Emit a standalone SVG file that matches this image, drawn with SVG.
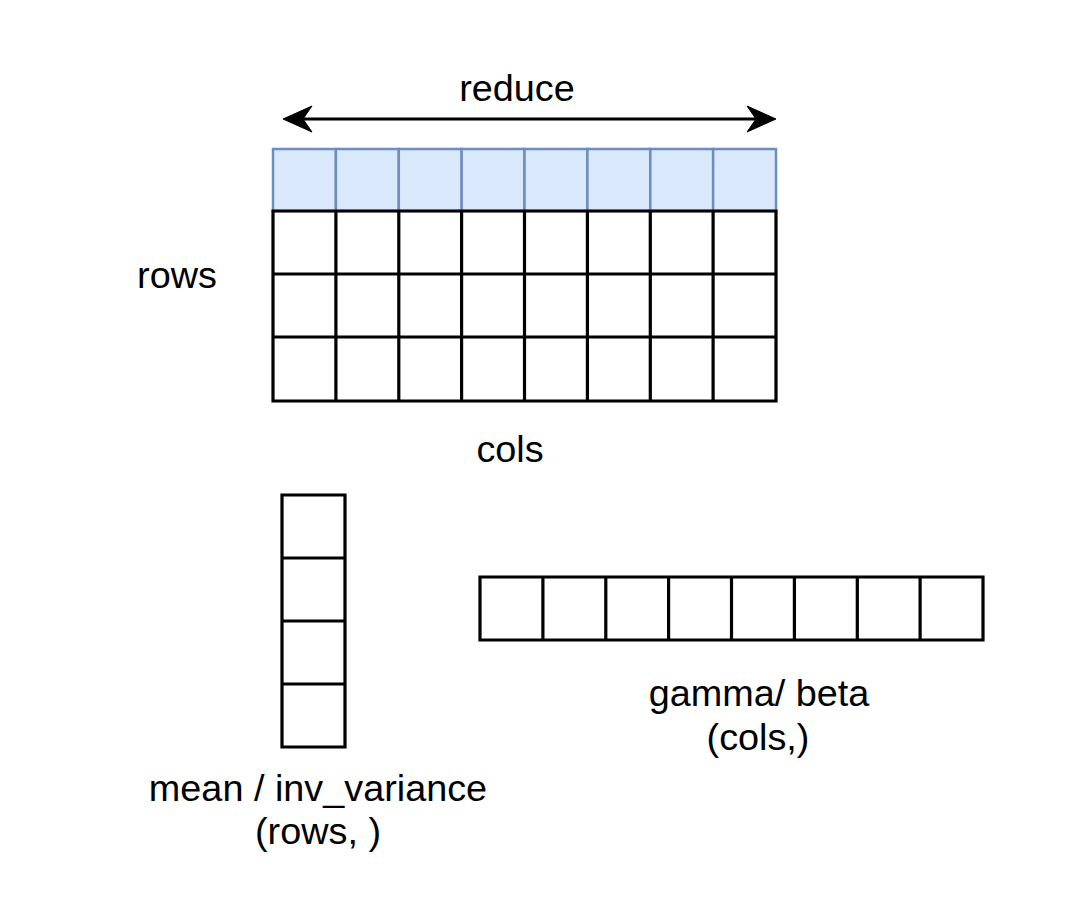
<svg xmlns="http://www.w3.org/2000/svg" width="1080" height="919" viewBox="0 0 1080 919">
<style>
.cell{fill:#ffffff;stroke:#000000;stroke-width:3}
.hcell{fill:#dae8fc;stroke:#6c8ebf;stroke-width:2.5}
.lbl{font-family:"Liberation Sans",Arial,sans-serif;font-size:37.8px;fill:#000000;text-anchor:middle}
.conn{stroke:#000000;stroke-width:3.2;fill:none}
.head{fill:#000000;stroke:#000000;stroke-width:1}
</style>
<rect width="1080" height="919" fill="#ffffff"/>
<g id="matrix">
<g id="row-reduce">
<rect class="hcell" x="273" y="149" width="62.9" height="62"/>
<rect class="hcell" x="335.9" y="149" width="62.9" height="62"/>
<rect class="hcell" x="398.8" y="149" width="62.9" height="62"/>
<rect class="hcell" x="461.6" y="149" width="62.9" height="62"/>
<rect class="hcell" x="524.5" y="149" width="62.9" height="62"/>
<rect class="hcell" x="587.4" y="149" width="62.9" height="62"/>
<rect class="hcell" x="650.3" y="149" width="62.9" height="62"/>
<rect class="hcell" x="713.1" y="149" width="62.9" height="62"/>
</g>
<g id="body">
<path class="conn" d="M273,211 H776 V401 H273 Z M273,274 H776 M273,337 H776 M335.9,211 V401 M398.8,211 V401 M461.6,211 V401 M524.5,211 V401 M587.4,211 V401 M650.3,211 V401 M713.1,211 V401"/>
</g>
</g>
<g id="mean-vector">
<path class="conn" d="M282,495 H345 V747 H282 Z M282,558 H345 M282,621 H345 M282,684 H345"/>
</g>
<g id="gamma-vector">
<path class="conn" d="M480,577 H983 V640 H480 Z M542.9,577 V640 M605.8,577 V640 M668.6,577 V640 M731.5,577 V640 M794.4,577 V640 M857.3,577 V640 M920.1,577 V640"/>
</g>
<g id="connectors">
<line class="conn" x1="298" y1="119" x2="761" y2="119"/>
<path class="head" d="M283,119 L312,106 L303,119 L312,132 Z"/>
<path class="head" d="M776,119 L747,106 L756,119 L747,132 Z"/>
</g>
<g id="labels">
<text class="lbl" x="517" y="101">reduce</text>
<text class="lbl" x="177" y="288">rows</text>
<text class="lbl" x="510" y="462">cols</text>
<text class="lbl" x="759" y="706">gamma/ beta</text>
<text class="lbl" x="758" y="750">(cols,)</text>
<text class="lbl" x="318" y="801">mean / inv_variance</text>
<text class="lbl" x="318" y="844">(rows, )</text>
</g>
</svg>
